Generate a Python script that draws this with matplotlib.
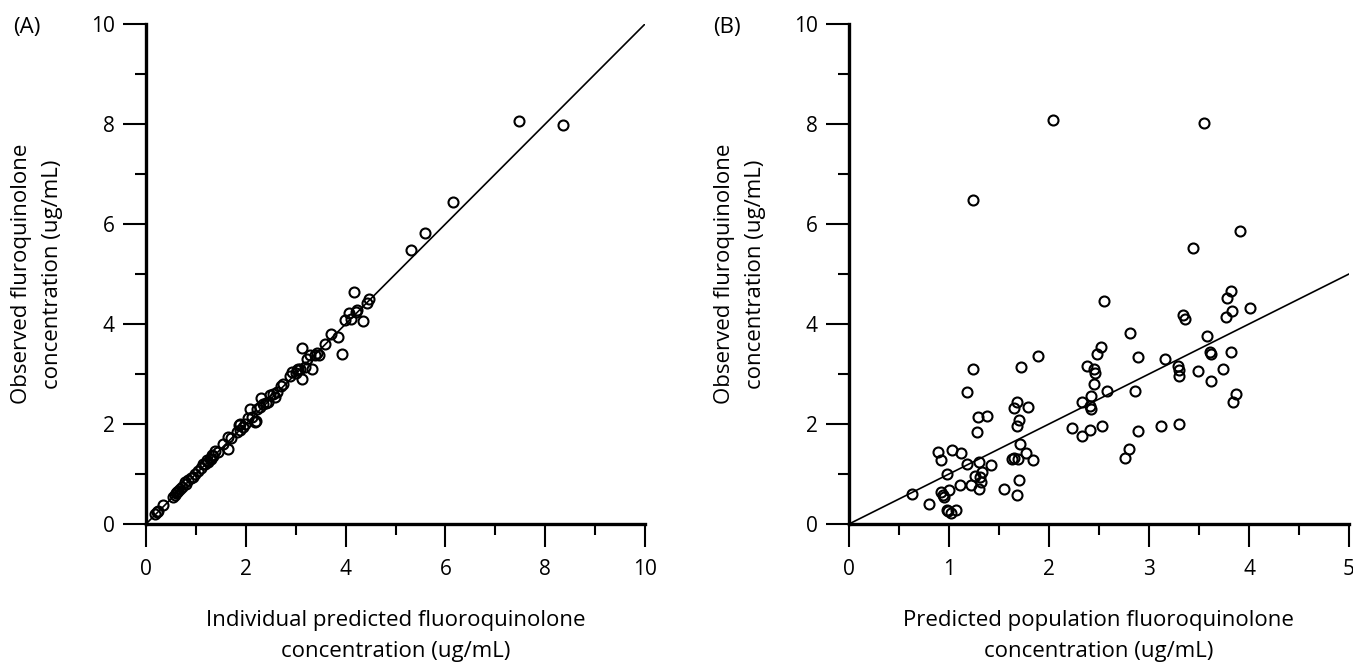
import matplotlib
matplotlib.use("Agg")
import matplotlib.pyplot as plt
from matplotlib.ticker import MultipleLocator

plt.rcParams['font.family'] = ['Open Sans', 'DejaVu Sans']

# Panel A: individual predicted vs observed
ipred_a = [7.47, 8.35, 6.15, 5.60, 5.32, 4.17, 4.47, 4.43, 4.23, 4.07, 4.10, 3.98, 4.35,
           3.85, 3.70, 3.93, 3.13, 3.39, 3.29, 3.22, 3.47, 3.33, 3.12, 3.02, 3.09, 2.92,
           2.89, 2.70, 2.55, 2.59, 2.48, 2.31, 2.08, 2.28, 2.22, 2.20, 2.05, 1.86, 1.95,
           1.88, 1.82, 1.65, 1.65, 1.54, 1.38, 1.32, 1.22, 1.15, 0.98, 0.95, 0.78, 0.72,
           0.62, 0.55, 0.35, 0.18, 0.25, 2.18, 1.88, 1.25, 1.28, 1.18, 1.10, 0.85, 0.80,
           0.68, 0.60, 0.58, 0.22, 2.35, 2.40, 2.62, 2.75, 3.05, 3.18, 3.42, 1.45, 1.70,
           1.98, 2.12, 0.90, 1.05, 0.65, 3.58, 4.20, 1.35, 1.30, 2.45, 3.00]
obs_a = [8.05, 7.99, 6.45, 5.83, 5.49, 4.64, 4.51, 4.43, 4.28, 4.23, 4.11, 4.09, 4.07,
         3.75, 3.81, 3.40, 3.52, 3.38, 3.38, 3.31, 3.38, 3.11, 2.91, 3.08, 3.11, 3.05,
         2.97, 2.77, 2.61, 2.55, 2.58, 2.53, 2.31, 2.35, 2.31, 2.06, 2.13, 1.99, 1.95,
         1.88, 1.85, 1.75, 1.50, 1.60, 1.47, 1.38, 1.28, 1.21, 1.01, 0.95, 0.85, 0.75,
         0.65, 0.55, 0.38, 0.21, 0.27, 2.05, 2.01, 1.25, 1.30, 1.20, 1.12, 0.88, 0.80,
         0.70, 0.62, 0.58, 0.24, 2.40, 2.42, 2.65, 2.80, 3.10, 3.15, 3.42, 1.45, 1.72,
         2.00, 2.15, 0.92, 1.06, 0.67, 3.60, 4.25, 1.36, 1.31, 2.45, 3.02]

# Panel B: population predicted vs observed
pred_b = [1.24, 1.72, 1.89, 1.18, 1.29, 1.38, 1.28, 1.68, 1.65, 1.79, 1.70, 1.68, 1.71,
          1.77, 1.84, 1.63, 1.65, 1.69, 1.70, 1.68, 1.55, 0.89, 0.92, 1.03, 1.12, 1.18,
          1.30, 1.42, 0.98, 1.33, 1.26, 1.31, 1.32, 1.22, 1.11, 1.30, 1.00, 0.92, 0.94,
          0.95, 0.63, 0.80, 0.98, 1.02, 1.07, 0.99,
          3.91, 3.44, 2.55, 3.82, 3.78, 4.01, 3.83, 3.77, 3.34, 3.36, 2.81, 2.52, 2.48,
          3.58, 2.89, 3.16, 3.61, 3.62, 3.82, 2.38, 2.45, 2.46, 3.29, 3.30, 3.30, 3.49,
          3.74, 3.62, 2.45, 2.58, 2.86, 2.42, 2.33, 2.41, 2.42, 3.87, 3.84, 2.53, 2.41,
          2.33, 2.89, 3.12, 3.30, 2.80, 2.76, 2.23, 1.24, 2.04, 3.55]
obs_b = [3.11, 3.15, 3.36, 2.64, 2.15, 2.16, 1.85, 2.45, 2.33, 2.35, 2.08, 1.97, 1.61,
         1.43, 1.28, 1.31, 1.32, 1.31, 0.89, 0.59, 0.71, 1.44, 1.28, 1.49, 1.43, 1.21,
         1.25, 1.19, 1.00, 1.05, 0.96, 0.95, 0.85, 0.79, 0.78, 0.71, 0.68, 0.65, 0.58,
         0.55, 0.61, 0.41, 0.28, 0.23, 0.29, 0.26,
         5.86, 5.52, 4.47, 4.67, 4.53, 4.33, 4.26, 4.14, 4.18, 4.10, 3.83, 3.55, 3.41,
         3.77, 3.35, 3.31, 3.44, 3.40, 3.45, 3.16, 3.11, 3.03, 3.17, 3.08, 2.97, 3.07,
         3.11, 2.87, 2.81, 2.66, 2.66, 2.57, 2.45, 2.37, 2.30, 2.61, 2.45, 1.97, 1.89,
         1.76, 1.87, 1.97, 2.01, 1.51, 1.33, 1.93, 6.48, 8.08, 8.02]

W, H = 1353, 665
fig = plt.figure(figsize=(W / 100, H / 100), dpi=100)
axA = fig.add_axes([146 / W, 1 - 524 / H, 499 / W, 500 / H])
axB = fig.add_axes([849 / W, 1 - 524 / H, 500 / W, 500 / H])

ylabel = "Observed fluroquinolone\nconcentration (ug/mL)"
panels = [
    (axA, ipred_a, obs_a, 10, 2, 1,
     "Individual predicted fluoroquinolone\nconcentration (ug/mL)", "(A)", 13, 146),
    (axB, pred_b, obs_b, 5, 1, 0.5,
     "Predicted population fluoroquinolone\nconcentration (ug/mL)", "(B)", 713, 849),
]

for ax, xs, ys, xmax, xmaj, xmin, xlabel, tag, tagx, spx in panels:
    ax.plot(xs, ys, linestyle='none', marker='o', markersize=7.2,
            markerfacecolor='none', markeredgecolor='black', markeredgewidth=1.5,
            clip_on=False, zorder=3)
    ax.plot([0, xmax], [0, xmax], color='black', linewidth=1.2, zorder=2)
    ax.set_xlim(0, xmax)
    ax.set_ylim(0, 10)
    ax.xaxis.set_major_locator(MultipleLocator(xmaj))
    ax.xaxis.set_minor_locator(MultipleLocator(xmin))
    ax.yaxis.set_major_locator(MultipleLocator(2))
    ax.yaxis.set_minor_locator(MultipleLocator(1))
    for s in ['top', 'right']:
        ax.spines[s].set_visible(False)
    for s in ['left', 'bottom']:
        ax.spines[s].set_linewidth(2.4)
    ax.tick_params(axis='both', which='major', direction='out', length=16.5, width=1.5,
                   labelsize=15, pad=6)
    ax.tick_params(axis='both', which='minor', direction='out', length=8, width=1.5)
    ax.tick_params(axis='x', which='major', pad=9)
    # axis titles placed at measured figure positions
    fig.text((spx + 249.5) / W, 1 - 636 / H, xlabel, fontsize=16, ha='center',
             va='center', multialignment='center', linespacing=1.6)
    fig.text((spx - 109) / W, 1 - 274 / H, ylabel, fontsize=16, ha='center',
             va='center', rotation=90, multialignment='center', linespacing=1.6)
    fig.text(tagx / W, 1 - 28 / H, tag, fontsize=16, va='center', ha='left')

fig.savefig("out.png", dpi=100)
